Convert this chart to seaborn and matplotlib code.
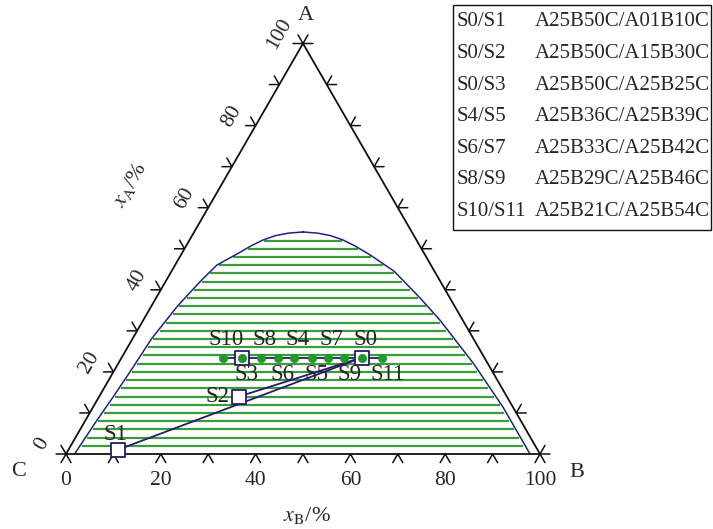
import numpy as np
import pandas as pd
import seaborn as sns
import matplotlib
matplotlib.use('Agg')
from matplotlib import pyplot as plt
from matplotlib.patches import Rectangle

# binodal curve (mole %)
left_xa = [0, 8, 14, 20, 28, 36, 42, 46, 49, 50.8, 52.2, 53.2, 53.8, 54.1]
left_xb = [1.8, 2.4, 3.0, 3.5, 4.0, 5.5, 7.3, 8.8, 12.0, 13.8, 15.6, 17.6, 20.0, 23.0]
right_xa = [0, 11.5, 22, 32.6, 38, 44.5, 48.5, 50.8, 52.2, 53.2, 53.8, 54.1]
right_xc = [2.1, 2.1, 3.0, 4.8, 6.3, 8.5, 11.6, 13.8, 15.6, 17.6, 20.0, 23.0]

# tie line levels (x_A, %)
tie_xa = list(range(2, 53, 2))

# sample points (positions as drawn in the picture)
s_names = ['S0', 'S1', 'S2', 'S3', 'S4', 'S5', 'S6', 'S7', 'S8', 'S9', 'S10', 'S11']
s_xa = [23.5, 1, 14, 23.5, 23.5, 23.5, 23.5, 23.5, 23.5, 23.5, 23.5, 23.5]
s_xb = [50.7, 10.4, 29.5, 25.4, 36.4, 40.1, 32.9, 43.5, 29.4, 47.0, 21.3, 55.0]
labels_above = ['S10', 'S8', 'S4', 'S7', 'S0']
labels_below = ['S3', 'S6', 'S5', 'S9', 'S11']
square_pts = ['S0', 'S1', 'S2', 'S3']
dot_pts = ['S0', 'S3', 'S4', 'S5', 'S6', 'S7', 'S8', 'S9', 'S10', 'S11']

# legend table
pair_names = ['S0/S1', 'S0/S2', 'S0/S3', 'S4/S5', 'S6/S7', 'S8/S9', 'S10/S11']
pair_comps = ['A25B50C/A01B10C', 'A25B50C/A15B30C', 'A25B50C/A25B25C',
              'A25B36C/A25B39C', 'A25B33C/A25B42C', 'A25B29C/A25B46C',
              'A25B21C/A25B54C']

tick_vals = [0, 10, 20, 30, 40, 50, 60, 70, 80, 90, 100]
label_vals = [0, 20, 40, 60, 80, 100]

H = np.sqrt(3) / 2


def to_xy(xa, xb):
    xa = np.asarray(xa, dtype=float)
    xb = np.asarray(xb, dtype=float)
    return xb + xa / 2, xa * H


sns.set_style('white')
plt.rcParams['font.family'] = ['Liberation Serif', 'DejaVu Serif']
plt.rcParams['mathtext.fontset'] = 'stix'

fig = plt.figure(figsize=(7.13, 5.29), dpi=100)
ax = fig.add_axes([0, 0, 1, 1])
ax.set_xlim(-66 / 4.74, (713 - 66) / 4.74)
ax.set_ylim(-(529 - 454) / 4.74, 454 / 4.74)
ax.set_aspect('equal')
ax.axis('off')

black = '#111111'
navy = '#1c2580'
purple = '#2a1a6a'
green = '#3a9c3a'
dot_green = '#1f9a2a'

# tie lines
lxa = np.array(left_xa)
rxa = np.array(right_xa)
for xa in tie_xa:
    xb_l = np.interp(xa, lxa, left_xb)
    xc_r = np.interp(xa, rxa, right_xc)
    x0, y0 = to_xy(xa, xb_l)
    x1, y1 = to_xy(xa, 100 - xa - xc_r)
    ax.hlines(y0, x0 + 0.4, x1 - 0.4, color=green, lw=1.6, zorder=2)

# binodal
bx_l, by_l = to_xy(left_xa, left_xb)
bx_r, by_r = to_xy(right_xa, 100 - np.array(right_xa) - np.array(right_xc))
bin_df = pd.DataFrame({'X': np.concatenate([bx_l, bx_r[::-1]]),
                       'Y': np.concatenate([by_l, by_r[::-1]])})
sns.lineplot(data=bin_df, x='X', y='Y', sort=False, estimator=None,
             color=navy, lw=1.1, ax=ax, zorder=3)

# triangle
tri_df = pd.DataFrame({'X': [0, 100, 50, 0], 'Y': [0, 0, 100 * H, 0]})
sns.lineplot(data=tri_df, x='X', y='Y', sort=False, estimator=None,
             color=black, lw=1.3, ax=ax, zorder=4)

# ticks
L = 2.1
for v in tick_vals:
    # bottom
    ax.plot([v - L / 2, v, v + L / 2], [-L * H, 0, -L * H], color=black, lw=1.1)
    # left
    px, py = to_xy(v, 0)
    ax.plot([px - L, px, px - L / 2], [py, py, py + L * H], color=black, lw=1.1)
    # right
    px, py = to_xy(v, 100 - v)
    ax.plot([px + L, px, px + L / 2], [py, py, py + L * H], color=black, lw=1.1)

for v in label_vals:
    ax.text(v, -5.6, str(v), ha='center', va='center', fontsize=15.5)
    px, py = to_xy(v, 0)
    ax.text(px - 5.0, py + 2.0, str(v), ha='center', va='center',
            fontsize=15.5, rotation=60)

ax.text(50.6, 92.5, 'A', ha='center', va='center', fontsize=16)
ax.text(107.8, -3.8, 'B', ha='center', va='center', fontsize=16)
ax.text(-10.1, -3.6, 'C', ha='center', va='center', fontsize=16)
ax.text(50.8, -12.9, r'$x_\mathrm{B}$/%', ha='center', va='center', fontsize=16)
ax.text(13.5, 56.8, r'$x_\mathrm{A}$/%', ha='center', va='center', fontsize=16,
        rotation=60)

# sample lines
pts = pd.DataFrame({'name': s_names, 'xa': s_xa, 'xb': s_xb})
pts['X'], pts['Y'] = to_xy(pts['xa'], pts['xb'])
p = pts.set_index('name')

row = p.loc[['S10', 'S11']]
ax.plot(row['X'], row['Y'], color=purple, lw=1.3, zorder=5)
for a in ['S1', 'S2']:
    seg = p.loc[[a, 'S0']]
    ax.plot(seg['X'], seg['Y'], color=purple, lw=1.3, zorder=5)

sns.scatterplot(data=p.loc[square_pts], x='X', y='Y', marker='s', s=95,
                facecolor='white', edgecolor=purple, linewidth=1.3,
                ax=ax, zorder=6)
sns.scatterplot(data=p.loc[dot_pts], x='X', y='Y', marker='o', s=36,
                color=dot_green, edgecolor=dot_green, ax=ax, zorder=7)

fs = 16.5
for n in labels_above:
    ax.text(p.loc[n, 'X'] + 0.7, p.loc[n, 'Y'] + 3.7, n, ha='center',
            va='center', fontsize=fs, zorder=8)
for n in labels_below:
    ax.text(p.loc[n, 'X'] + 1.0, p.loc[n, 'Y'] - 3.5, n, ha='center',
            va='center', fontsize=fs, zorder=8)
ax.text(p.loc['S2', 'X'] - 2.0, p.loc['S2', 'Y'], 'S2', ha='right',
        va='center', fontsize=fs, zorder=8)
ax.text(p.loc['S1', 'X'] - 0.5, p.loc['S1', 'Y'] + 3.2, 'S1', ha='center',
        va='center', fontsize=fs, zorder=8)

# legend table
W, Hh = 713, 529
fig.patches.append(Rectangle((453 / W, 1 - 230 / Hh), (711 - 453) / W,
                             (230 - 5) / Hh, transform=fig.transFigure,
                             fill=False, edgecolor=black, lw=1.0))
for i, (a, b) in enumerate(zip(pair_names, pair_comps)):
    yy = 1 - (22 + i * 31.6) / Hh
    fig.text(457 / W, yy, a, ha='left', va='center', fontsize=15)
    fig.text(535 / W, yy, b, ha='left', va='center', fontsize=15)

fig.savefig('out.png', dpi=100)
